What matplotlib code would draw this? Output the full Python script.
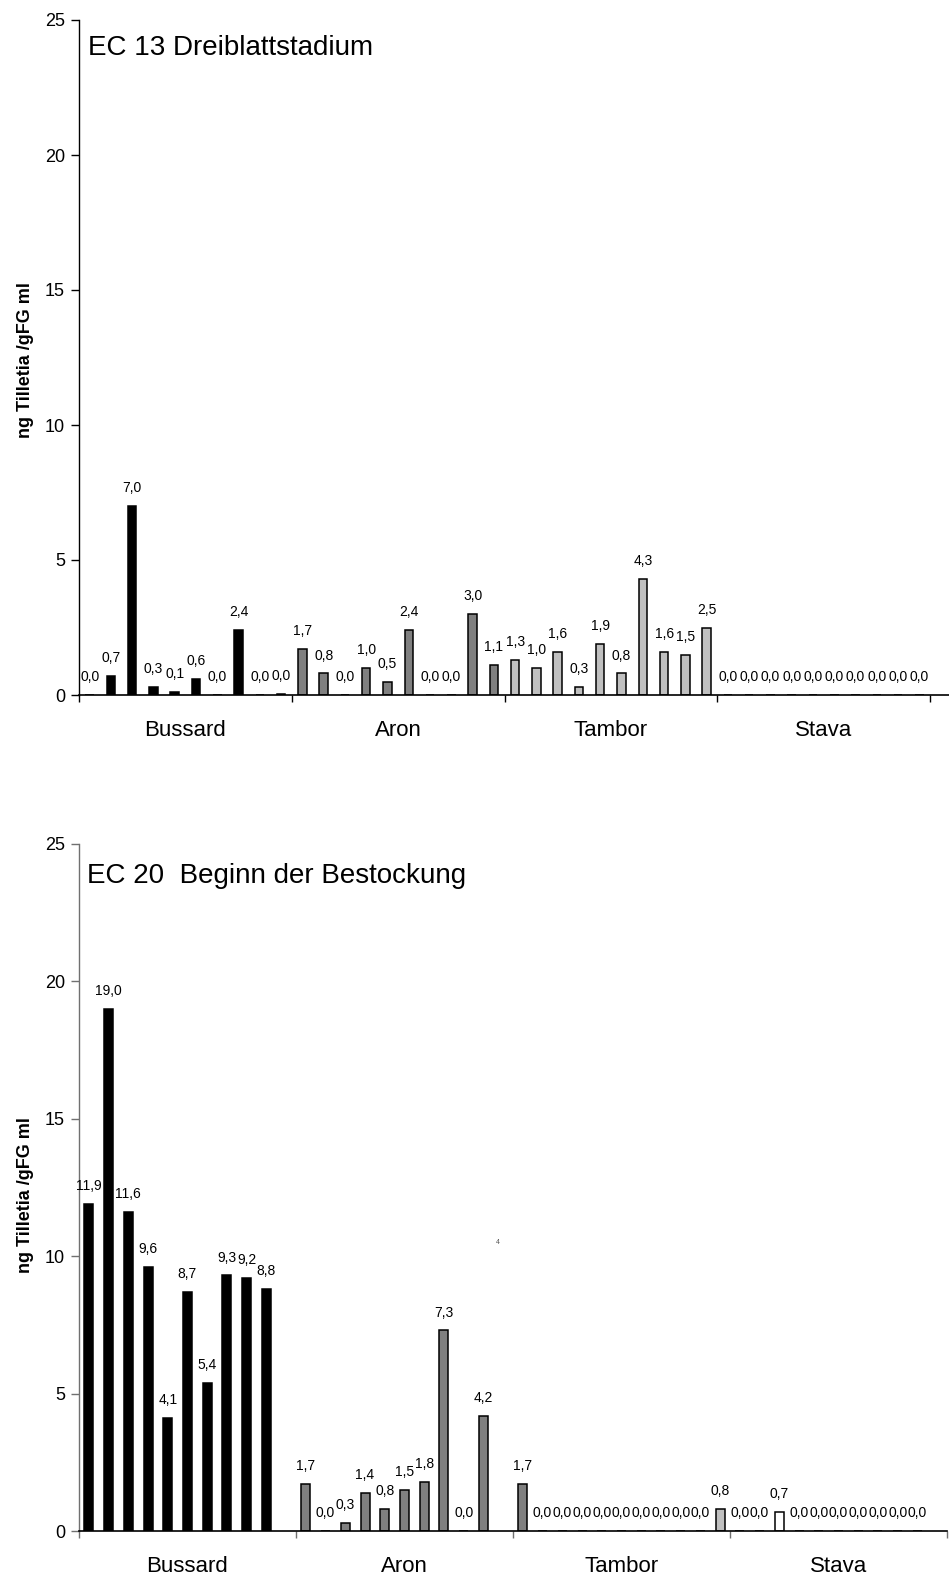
"""
Tilletia-Befall (ng /gFG ml) je Sorte in zwei Entwicklungsstadien.

Erzeugt out.png mit zwei Balkendiagrammen untereinander:
  oben  — EC 13 Dreiblattstadium
  unten — EC 20 Beginn der Bestockung
"""

import matplotlib
matplotlib.use("Agg")
import matplotlib.pyplot as plt

plt.rcParams["font.family"] = ["Liberation Sans", "DejaVu Sans"]

CATEGORIES = ["Bussard", "Aron", "Tambor", "Stava"]
Y_TICKS    = [0, 5, 10, 15, 20, 25]

# EC 13: 10 Proben je Sorte
EC13_BUSSARD = [0.0, 0.7, 7.0, 0.3, 0.1, 0.6, 0.0, 2.4, 0.0, 0.04]
EC13_ARON    = [1.7, 0.8, 0.0, 1.0, 0.5, 2.4, 0.0, 0.0, 3.0, 1.1]
EC13_TAMBOR  = [1.3, 1.0, 1.6, 0.3, 1.9, 0.8, 4.3, 1.6, 1.5, 2.5]
EC13_STAVA   = [0.0, 0.0, 0.0, 0.0, 0.0, 0.0, 0.0, 0.0, 0.0, 0.0]

# EC 20: 11 Plätze je Sorte, None = kein Wert
EC20_BUSSARD = [11.9, 19.0, 11.6, 9.6, 4.1, 8.7, 5.4, 9.3, 9.2, 8.8, None]
EC20_ARON    = [1.7, 0.0, 0.3, 1.4, 0.8, 1.5, 1.8, 7.3, 0.0, 4.2, None]
EC20_TAMBOR  = [1.7, 0.0, 0.0, 0.0, 0.0, 0.0, 0.0, 0.0, 0.0, 0.0, 0.8]
EC20_STAVA   = [0.0, 0.0, 0.7, 0.0, 0.0, 0.0, 0.0, 0.0, 0.0, 0.0, None]

BLACK = "#000000"
DARK  = "#808080"
LIGHT = "#c0c0c0"
WHITE = "#ffffff"

EC13_COLORS = [[BLACK] * 10, [DARK] * 10, [LIGHT] * 10, [WHITE] * 10]
EC20_COLORS = [[BLACK] * 11, [DARK] * 11, [DARK] + [LIGHT] * 10, [WHITE] * 11]

W, H = 949, 1580


def fmt(v):
    return f"{v:.1f}".replace(".", ",")


def draw_panel(ax, groups, colors, per_cat, bar_w, xmax, yaxis_color):
    for ci, (vals, cols) in enumerate(zip(groups, colors)):
        for j, (v, c) in enumerate(zip(vals, cols)):
            if v is None:
                continue
            pos = ci * per_cat + j + 0.5
            ax.bar(pos, v, bar_w, color=c, edgecolor="black", linewidth=1.1, zorder=2)
            ax.annotate(fmt(v), (pos, v), xytext=(0, 10), textcoords="offset points",
                        ha="center", va="baseline", fontsize=10)

    ax.set_xlim(0, xmax)
    ax.set_ylim(0, 25)
    ax.set_yticks(Y_TICKS)
    ax.tick_params(axis="y", direction="out", length=6, width=1, pad=4,
                   labelsize=13, color=yaxis_color)

    bounds = [i * per_cat for i in range(len(CATEGORIES) + 1)]
    centers = [(i + 0.5) * per_cat for i in range(len(CATEGORIES))]
    ax.set_xticks(bounds, labels=[""] * len(bounds))
    ax.set_xticks(centers, labels=CATEGORIES, minor=True)
    ax.tick_params(axis="x", which="major", direction="out", length=5, width=1,
                   color=yaxis_color)
    ax.tick_params(axis="x", which="minor", length=0, pad=18, labelsize=16)

    for s in ("top", "right"):
        ax.spines[s].set_visible(False)
    ax.spines["left"].set_color(yaxis_color)
    ax.spines["left"].set_linewidth(1.0)
    ax.spines["bottom"].set_linewidth(1.2)
    ax.spines["bottom"].set_zorder(3)
    ax.set_facecolor("none")


def main():
    fig = plt.figure(figsize=(W / 100, H / 100), dpi=100)

    # — EC 13 —
    ax1 = fig.add_axes([79 / W, 1 - 695 / H, 870 / W, 675 / H])
    draw_panel(ax1, [EC13_BUSSARD, EC13_ARON, EC13_TAMBOR, EC13_STAVA], EC13_COLORS,
               10, 0.4, 40 * 870 / 851, "black")
    fig.text(88 / W, 1 - 55 / H, "EC 13 Dreiblattstadium", fontsize=20,
             ha="left", va="baseline")
    fig.text(26 / W, 1 - 360 / H, "ng Tilletia /gFG ml", fontsize=13,
             fontweight="bold", rotation=90, ha="center", va="center")

    # — EC 20 —
    ax2 = fig.add_axes([79 / W, 1 - 1531 / H, 868 / W, 687 / H])
    draw_panel(ax2, [EC20_BUSSARD, EC20_ARON, EC20_TAMBOR, EC20_STAVA], EC20_COLORS,
               11, 0.46, 44, "#707070")
    fig.text(87 / W, 1 - 883 / H, "EC 20  Beginn der Bestockung", fontsize=20,
             ha="left", va="baseline")
    fig.text(26 / W, 1 - 1195 / H, "ng Tilletia /gFG ml", fontsize=13,
             fontweight="bold", rotation=90, ha="center", va="center")
    fig.text(498 / W, 1 - 1243 / H, "4", fontsize=5, color="#555555",
             ha="center", va="center")

    fig.savefig("out.png", dpi=100)
    plt.close(fig)


if __name__ == "__main__":
    main()
